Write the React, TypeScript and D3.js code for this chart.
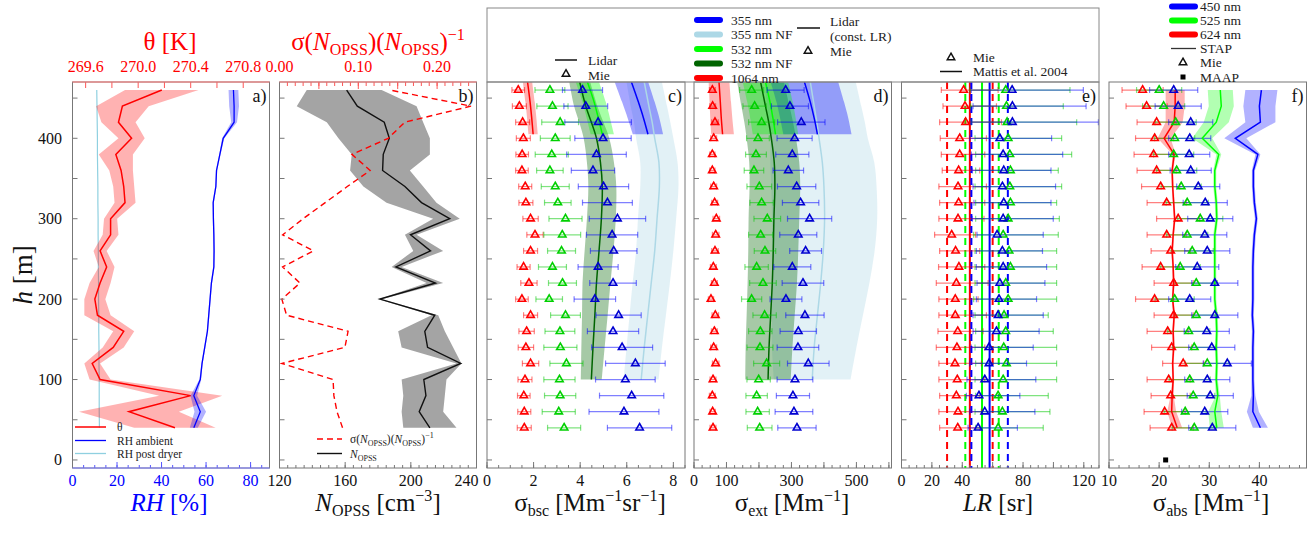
import React from "react";
import * as d3 from "d3";

const FONT = '"Liberation Serif", "DejaVu Serif", "Times New Roman", serif';

// Sampling heights of the in-situ profiles (m above ground)
const HEIGHTS = [40, 60, 80, 100, 120, 140, 160, 180, 200, 220, 240, 260, 280, 300, 320, 340, 360, 380, 400, 420, 440, 460];

// a) potential temperature and relative humidity
const THETA = [270.28, 269.93, 270.4, 269.71, 269.65, 269.81, 269.89, 269.69, 269.67, 269.71, 269.76, 269.71, 269.79, 269.79, 269.9, 269.89, 269.87, 269.83, 269.95, 269.85, 269.88, 270.18];
const THETA_ERR = [0.31, 0.38, 0.24, 0.08, 0.06, 0.08, 0.08, 0.1, 0.08, 0.08, 0.06, 0.05, 0.06, 0.05, 0.08, 0.08, 0.09, 0.13, 0.1, 0.13, 0.2, 0.28];
const RH_AMBIENT = [54.5, 57.4, 54.5, 57.4, 58.2, 59.4, 60.6, 61.2, 61.8, 62.4, 63.5, 63.6, 63.5, 63.3, 63.2, 64.4, 64.7, 66.2, 67.7, 72.6, 72.6, 72.3];
const RH_AMBIENT_ERR = [1.8, 2.6, 1.5, 0.4, 0.3, 0.3, 0.3, 0.3, 0.3, 0.3, 0.3, 0.3, 0.3, 0.3, 0.3, 0.3, 0.3, 0.3, 0.5, 1.3, 2.2, 2.2];
const RH_DRYER = [12.1, 12.0, 12.0, 12.0, 11.9, 11.9, 11.8, 11.8, 11.7, 11.7, 11.6, 11.6, 11.5, 11.5, 11.4, 11.4, 11.3, 11.2, 11.2, 11.1, 11.0, 10.9];

// b) OPSS number concentration and its relative variability
const N_OPSS = [211.6, 205.1, 209.2, 207.9, 230.4, 210.2, 208.5, 214.6, 181.2, 215.0, 190.9, 212.0, 199.8, 223.7, 206.5, 196.4, 182.8, 183.2, 186.9, 183.8, 167.4, 160.9];
const N_OPSS_LO = [195.4, 194.4, 195.4, 194.4, 227.8, 194.4, 192.3, 212.6, 180.2, 209.6, 188.3, 201.5, 196.4, 213.6, 185.2, 171.1, 163.0, 164.0, 155.9, 148.8, 130.5, 136.6];
const N_OPSS_HI = [227.8, 219.7, 220.7, 221.7, 230.8, 225.8, 220.7, 216.7, 182.2, 219.7, 194.4, 219.7, 203.5, 229.8, 215.6, 207.5, 199.4, 211.6, 211.6, 207.5, 203.5, 182.2];
const N_REL_STD = [0.08, 0.073, 0.069, 0.068, 0.003, 0.083, 0.087, 0.009, 0.003, 0.026, 0.004, 0.043, 0.004, 0.03, 0.058, 0.086, 0.115, 0.092, 0.138, 0.159, 0.243, 0.14];

// Lidar retrieval heights (far range and near field)
const LIDAR_H = [405, 425, 445, 470];
const LIDAR_NF_H = [100, 140, 180, 220, 260, 300, 340, 370, 400, 420, 440, 470];

// c) backscatter coefficient
const BSC_MIE_1064 = [1.6, 1.6, 1.58, 1.63, 1.87, 1.67, 1.7, 1.87, 1.5, 1.8, 1.57, 1.87, 2.06, 1.87, 1.67, 1.64, 1.5, 1.51, 1.56, 1.53, 1.39, 1.34];
const BSC_MIE_1064_ERR = [0.3, 0.28, 0.27, 0.3, 0.35, 0.33, 0.33, 0.3, 0.27, 0.35, 0.28, 0.3, 0.35, 0.33, 0.3, 0.28, 0.27, 0.27, 0.3, 0.3, 0.3, 0.27];
const BSC_MIE_532 = [3.31, 3.08, 3.14, 3.11, 3.41, 3.15, 3.13, 3.37, 2.67, 3.24, 2.81, 3.2, 3.23, 3.37, 3.04, 2.93, 2.7, 2.78, 2.93, 3.14, 2.81, 2.7];
const BSC_MIE_532_ERR = [0.71, 0.71, 0.67, 0.67, 0.71, 0.71, 0.64, 0.64, 0.57, 0.6, 0.6, 0.6, 0.79, 0.71, 0.57, 0.6, 0.57, 0.71, 0.64, 0.79, 0.67, 0.64];
const BSC_MIE_355 = [6.55, 5.88, 6.21, 5.94, 6.37, 5.8, 5.41, 5.65, 4.63, 5.41, 4.77, 5.44, 5.37, 5.6, 5.17, 5.0, 4.55, 4.7, 4.98, 4.77, 4.24, 4.1];
const BSC_MIE_355_ERR = [1.38, 1.5, 1.38, 1.28, 1.28, 1.31, 1.1, 0.97, 0.89, 1.0, 0.86, 1.0, 1.1, 1.21, 1.07, 1.08, 0.93, 1.28, 1.21, 1.43, 0.94, 0.86];
const BSC_LIDAR_1064 = [1.98, 1.92, 1.85, 1.74];
const BSC_LIDAR_1064_ERR = [0.2, 0.2, 0.2, 0.2];
const BSC_LIDAR_532 = [4.95, 4.78, 4.6, 4.31];
const BSC_LIDAR_532_ERR = [0.5, 0.5, 0.5, 0.5];
const BSC_LIDAR_355 = [6.91, 6.72, 6.5, 6.2];
const BSC_LIDAR_355_ERR = [0.65, 0.68, 0.7, 0.72];
const BSC_NF_532 = [4.48, 4.55, 4.63, 4.7, 4.81, 4.91, 4.95, 4.87, 4.7, 4.48, 4.24, 3.98];
const BSC_NF_532_ERR = [0.45, 0.5, 0.55, 0.6, 0.62, 0.62, 0.6, 0.58, 0.55, 0.52, 0.5, 0.45];
const BSC_NF_355 = [6.62, 6.75, 6.9, 7.05, 7.2, 7.3, 7.4, 7.38, 7.2, 7.09, 6.95, 6.75];
const BSC_NF_355_ERR = [0.75, 0.76, 0.78, 0.8, 0.8, 0.82, 0.82, 0.8, 0.8, 0.78, 0.78, 0.76];

// d) extinction coefficient
const EXT_MIE_1064 = [58.5, 57.4, 56.4, 58.5, 66.7, 60.5, 62.6, 65.6, 52.3, 62.6, 59.5, 64.6, 66.7, 68.7, 63.6, 60.5, 56.4, 56.4, 60.5, 64.6, 57.4, 56.4];
const EXT_MIE_1064_ERR = [9, 8, 9, 9, 10, 9, 9, 10, 8, 9, 9, 10, 10, 10, 9, 9, 8, 8, 9, 10, 9, 9];
const EXT_MIE_532 = [202.1, 195.9, 192.8, 199.0, 223.6, 203.1, 204.1, 217.4, 177.4, 212.3, 192.8, 218.5, 205.1, 225.6, 208.2, 201.0, 184.6, 190.8, 196.9, 208.2, 186.7, 177.4];
const EXT_MIE_532_ERR = [38, 36, 33, 36, 40, 40, 36, 36, 31, 41, 36, 33, 37, 41, 36, 38, 30, 32, 35, 40, 36, 37];
const EXT_MIE_355 = [316.9, 307.7, 304.6, 310.8, 351.8, 320.0, 321.0, 341.5, 283.1, 335.4, 302.6, 343.6, 321.0, 355.9, 328.2, 315.9, 290.3, 302.6, 309.7, 330.3, 295.4, 282.1];
const EXT_MIE_355_ERR = [59, 58, 51, 55, 64, 64, 56, 59, 49, 64, 57, 49, 57, 68, 56, 59, 47, 51, 54, 73, 57, 57];
const EXT_LIDAR_1064 = [88, 84, 81, 77];
const EXT_LIDAR_1064_ERR = [35, 34, 33, 32];
const EXT_LIDAR_532 = [251, 243, 234, 220];
const EXT_LIDAR_532_ERR = [70, 70, 70, 70];
const EXT_LIDAR_355 = [380, 370, 358, 340];
const EXT_LIDAR_355_ERR = [105, 105, 104, 104];
const EXT_NF_532 = [228, 231, 236, 241, 244, 246, 249, 247, 238, 230, 220, 205];
const EXT_NF_532_ERR = [70, 72, 74, 76, 77, 78, 78, 77, 76, 75, 74, 72];
const EXT_NF_355 = [364, 370, 380, 390, 398, 402, 400, 395, 385, 378, 370, 358];
const EXT_NF_355_ERR = [118, 130, 140, 150, 158, 162, 162, 160, 150, 148, 145, 140];

// e) lidar ratio
const LR_MIE_1064 = [37.0, 37.2, 36.1, 36.7, 35.2, 36.5, 37.0, 35.4, 35.4, 36.1, 37.8, 35.6, 33.0, 37.2, 37.6, 37.2, 37.6, 38.3, 38.3, 42.2, 41.8, 40.9];
const LR_MIE_1064_LO = [25.1, 24.6, 25.1, 24.6, 24.6, 22.9, 24.0, 24.6, 24.6, 22.9, 24.4, 25.1, 21.8, 24.6, 25.1, 24.6, 26.8, 26.2, 25.5, 25.1, 27.3, 26.2];
const LR_MIE_1064_HI = [51.5, 52.6, 51.5, 54.8, 52.6, 54.8, 53.7, 55.9, 50.4, 57.0, 54.8, 51.5, 48.8, 54.3, 54.8, 55.9, 51.5, 54.8, 55.9, 65.8, 62.5, 63.6];
const LR_MIE_532 = [63.6, 66.4, 63.6, 66.9, 69.1, 67.3, 68.6, 67.5, 70.2, 68.6, 71.7, 70.8, 66.9, 70.2, 71.7, 71.3, 71.7, 71.3, 70.2, 69.5, 69.1, 68.6];
const LR_MIE_532_LO = [48.8, 48.4, 48.8, 48.4, 48.8, 48.4, 48.8, 48.4, 47.5, 48.4, 48.4, 48.4, 47.5, 48.8, 48.8, 48.4, 48.8, 48.8, 48.4, 46.0, 45.5, 45.0];
const LR_MIE_532_HI = [93.3, 97.7, 96.6, 102.1, 102.1, 102.1, 99.9, 96.6, 102.1, 102.1, 102.1, 102.1, 103.2, 103.9, 102.1, 105.4, 103.2, 112.0, 105.4, 115.3, 106.5, 110.9];
const LR_MIE_355 = [50.4, 54.8, 51.0, 54.8, 57.6, 57.6, 62.5, 63.6, 64.2, 64.7, 66.9, 66.4, 62.9, 66.9, 67.3, 66.4, 67.3, 66.9, 64.7, 73.0, 73.0, 72.8];
const LR_MIE_355_LO = [43.8, 44.9, 42.7, 43.1, 44.9, 46.0, 47.1, 47.1, 49.3, 49.7, 49.3, 49.3, 49.7, 46.6, 47.7, 47.1, 46.6, 46.0, 44.9, 46.0, 47.1, 46.0];
const LR_MIE_355_HI = [76.3, 87.8, 77.9, 88.4, 82.3, 86.7, 90.6, 93.3, 88.9, 94.4, 95.5, 92.8, 93.3, 99.9, 98.4, 101.4, 98.4, 106.1, 98.8, 129.6, 121.5, 119.7];
// Mattis et al. (2004) lidar ratios: 355, 532, 1064 nm
const LR_MATTIS = [58, 53, 45];
const LR_MATTIS_ERR = [12, 11, 15];

// f) absorption coefficient
const ABS_MIE_624 = [22.5, 21.1, 22.3, 21.9, 24.8, 22.5, 21.7, 22.9, 19.1, 22.9, 20.3, 22.3, 21.5, 23.8, 21.5, 20.3, 19.5, 18.9, 19.1, 19.5, 17.5, 16.7];
const ABS_MIE_624_ERR = [4.3, 4.1, 3.9, 4.3, 4.1, 4.0, 4.1, 3.9, 3.8, 3.9, 3.7, 3.9, 3.9, 4.3, 3.9, 3.8, 3.9, 3.9, 3.8, 3.9, 4.1, 4.1];
const ABS_MIE_525 = [27.0, 25.2, 26.8, 26.1, 29.6, 27.0, 25.9, 27.4, 23.1, 27.4, 24.2, 26.6, 25.6, 28.2, 25.6, 24.4, 23.5, 22.9, 23.1, 23.3, 20.9, 20.0];
const ABS_MIE_525_ERR = [4.4, 4.2, 4.3, 4.1, 4.4, 4.3, 4.2, 4.2, 3.9, 4.2, 4.0, 4.2, 4.1, 4.5, 4.2, 4.0, 4.0, 4.0, 4.0, 4.1, 4.2, 4.5];
const ABS_MIE_450 = [30.6, 29.1, 30.2, 29.6, 33.6, 30.5, 29.5, 31.1, 26.1, 31.1, 27.6, 29.6, 29.1, 30.2, 29.2, 27.8, 26.3, 26.0, 26.1, 26.3, 23.8, 22.9];
const ABS_MIE_450_ERR = [4.7, 4.6, 4.6, 4.5, 4.8, 4.6, 4.5, 4.6, 4.2, 4.6, 4.3, 4.5, 4.4, 4.5, 4.4, 4.3, 4.1, 4.1, 4.2, 4.4, 4.6, 4.8];
const ABS_STAP_624 = [23.6, 22.5, 22.6, 22.8, 22.7, 22.9, 22.8, 23.0, 22.7, 22.9, 22.8, 22.6, 22.8, 23.1, 22.9, 22.7, 22.6, 23.0, 21.0, 23.0, 23.2, 23.2];
const ABS_STAP_624_ERR = [1.0, 0.9, 0.3, 0.2, 0.2, 0.2, 0.2, 0.2, 0.2, 0.2, 0.2, 0.2, 0.2, 0.2, 0.2, 0.2, 0.2, 0.3, 1.3, 1.7, 1.9, 1.9];
const ABS_STAP_525 = [31.5, 31.1, 31.7, 31.4, 31.5, 31.4, 31.5, 31.4, 31.1, 31.1, 31.1, 31.1, 31.1, 31.5, 31.4, 31.1, 31.1, 31.9, 28.6, 31.4, 32.4, 32.2];
const ABS_STAP_525_ERR = [1.4, 1.3, 0.4, 0.3, 0.3, 0.3, 0.3, 0.3, 0.3, 0.3, 0.3, 0.3, 0.3, 0.3, 0.3, 0.3, 0.3, 0.5, 2.0, 2.5, 2.5, 2.5];
const ABS_STAP_450 = [40.2, 38.7, 38.8, 38.7, 38.7, 38.7, 38.8, 38.6, 38.7, 38.7, 38.7, 38.8, 39.0, 39.4, 39.0, 38.8, 38.8, 39.7, 35.2, 40.2, 40.0, 40.4];
const ABS_STAP_450_ERR = [1.5, 1.2, 0.4, 0.3, 0.3, 0.3, 0.3, 0.3, 0.3, 0.3, 0.3, 0.3, 0.3, 0.3, 0.3, 0.3, 0.3, 0.5, 2.2, 3.0, 3.2, 3.2];
const MAAP_H = [0];
const MAAP_ABS = [21.3];

// Tick labels
const Y_TICKS = [0, 100, 200, 300, 400];
const TICKS_A_BOTTOM = [0, 20, 40, 60, 80];
const TICKS_A_TOP = [269.6, 270.0, 270.4, 270.8];
const TICKS_B_BOTTOM = [120, 160, 200, 240];
const TICKS_B_TOP = [0, 0.1, 0.2];
const TICKS_C = [0, 2, 4, 6, 8];
const TICKS_D = [0, 100, 300, 500];
const TICKS_E = [0, 20, 40, 80, 120];
const TICKS_F = [10, 20, 30, 40];

// Colours
const BLUE = "#0000ff";
const LIGHTBLUE = "#add8e6";
const LIME = "#00ff00";
const DARKGREEN = "#006400";
const RED = "#ff0000";
const FRAME = "#777";

// Layout
const TOP = 82;
const BOTTOM = 468;
const PANELS: Record<string, [number, number]> = {
  a: [72.5, 269.5],
  b: [279.5, 476.5],
  c: [487, 685],
  d: [694, 891.5],
  e: [901.5, 1099],
  f: [1109, 1306.5],
};

const yS = d3.scaleLinear().domain([-10, 470]).range([BOTTOM, TOP]);
const xA = d3.scaleLinear().domain([0, 88.5]).range(PANELS.a);
const xAtop = d3.scaleLinear().domain([269.5, 271.0]).range(PANELS.a);
const xB = d3.scaleLinear().domain([120, 240]).range(PANELS.b);
const xBtop = d3.scaleLinear().domain([0, 0.25]).range(PANELS.b);
const xC = d3.scaleLinear().domain([0, 8.5]).range(PANELS.c);
const xD = d3.scaleLinear().domain([0, 608]).range(PANELS.d);
const xE = d3.scaleLinear().domain([0, 130]).range(PANELS.e);
const xF = d3.scaleLinear().domain([10, 49.4]).range(PANELS.f);

const TRIANGLE = d3.symbol().type(d3.symbolTriangle).size(24)() as string;

const minus = (v: number[], e: number[]) => v.map((x, i) => x - e[i]);
const plus = (v: number[], e: number[]) => v.map((x, i) => x + e[i]);

function Band({ x, hs, lo, hi, fill, opacity = 0.3, smooth = false }: any) {
  const gen = d3
    .area<number>()
    .curve(smooth ? d3.curveCatmullRom : d3.curveLinear)
    .y((i) => yS(hs[i]))
    .x0((i) => x(lo[i]))
    .x1((i) => x(hi[i]));
  return <path d={gen(d3.range(hs.length)) || ""} fill={fill} fillOpacity={opacity} stroke="none" />;
}

function Profile({ x, hs, v, color, width = 1.5, dash, smooth = false }: any) {
  const gen = d3
    .line<number>()
    .curve(smooth ? d3.curveCatmullRom : d3.curveLinear)
    .x((i) => x(v[i]))
    .y((i) => yS(hs[i]));
  return <path d={gen(d3.range(hs.length)) || ""} fill="none" stroke={color} strokeWidth={width} strokeDasharray={dash} />;
}

function ErrorBars({ x, hs, lo, hi, color }: any) {
  return (
    <g stroke={color} strokeOpacity={0.5} strokeWidth={1.2}>
      {hs.map((h: number, i: number) => {
        const yy = yS(h);
        const a = x(lo[i]);
        const b = x(hi[i]);
        return (
          <g key={i}>
            <line x1={a} x2={b} y1={yy} y2={yy} />
            <line x1={a} x2={a} y1={yy - 3} y2={yy + 3} />
            <line x1={b} x2={b} y1={yy - 3} y2={yy + 3} />
          </g>
        );
      })}
    </g>
  );
}

function Triangles({ x, hs, v, color }: any) {
  return (
    <g>
      {hs.map((h: number, i: number) => (
        <path key={i} d={TRIANGLE} transform={`translate(${x(v[i])},${yS(h)})`} fill="none" stroke={color} strokeWidth={1.6} />
      ))}
    </g>
  );
}

function XTicks({ scale, values, y, len, color = FRAME }: any) {
  return (
    <g stroke={color} strokeWidth={1}>
      {values.map((v: number, i: number) => (
        <line key={i} x1={scale(v)} x2={scale(v)} y1={y} y2={y + len} />
      ))}
    </g>
  );
}

function YTicks({ x0 }: { x0: number }) {
  return (
    <g stroke={FRAME} strokeWidth={1}>
      {d3.range(0, 451, 50).map((h) => (
        <line key={h} x1={x0} x2={x0 + 5} y1={yS(h)} y2={yS(h)} />
      ))}
    </g>
  );
}

function TickLabels({ scale, values, y, fmt, color = "#111", lastAnchorEnd = false }: any) {
  return (
    <g fontSize={16} fill={color}>
      {values.map((v: number, i: number) => {
        const end = lastAnchorEnd && i === values.length - 1;
        return (
          <text key={i} x={end ? scale(v) + 2 : scale(v)} y={y} textAnchor={end ? "end" : "middle"}>
            {fmt ? fmt(v) : String(v)}
          </text>
        );
      })}
    </g>
  );
}

function Frame({ id }: { id: string }) {
  const [x0, x1] = PANELS[id];
  return <rect x={x0} y={TOP} width={x1 - x0} height={BOTTOM - TOP} fill="none" stroke={FRAME} strokeWidth={1} />;
}

function PanelLabel({ id, text }: { id: string; text: string }) {
  const [, x1] = PANELS[id];
  return (
    <text x={x1 - 3} y={102} textAnchor="end" fontSize={18} fill="#111">
      {text}
    </text>
  );
}

export default function App() {
  const midY = (v: number) => v + 4.5;
  return (
    <svg
      width={1311}
      height={540}
      viewBox="0 0 1311 540"
      style={{ position: "absolute", left: 0, top: 0, background: "#fff", fontFamily: FONT }}
    >
      <rect width={1311} height={540} fill="#fff" />
      <defs>
        {Object.entries(PANELS).map(([k, [x0, x1]]) => (
          <clipPath id={`clip-${k}`} key={k}>
            <rect x={x0} y={TOP} width={x1 - x0} height={BOTTOM - TOP} />
          </clipPath>
        ))}
      </defs>

      {/* ---------- a) theta and RH ---------- */}
      <g clipPath="url(#clip-a)">
        <Profile x={xA} hs={HEIGHTS} v={RH_DRYER} color="#8fd0e0" width={1.2} />
        <Band x={xAtop} hs={HEIGHTS} lo={minus(THETA, THETA_ERR)} hi={plus(THETA, THETA_ERR)} fill={RED} opacity={0.3} />
        <Profile x={xAtop} hs={HEIGHTS} v={THETA} color={RED} width={1.5} />
        <Band x={xA} hs={HEIGHTS} lo={minus(RH_AMBIENT, RH_AMBIENT_ERR)} hi={plus(RH_AMBIENT, RH_AMBIENT_ERR)} fill={BLUE} opacity={0.3} />
        <Profile x={xA} hs={HEIGHTS} v={RH_AMBIENT} color={BLUE} width={1.3} />
      </g>
      <YTicks x0={PANELS.a[0]} />
      <XTicks scale={xA} values={d3.range(0, 89, 5)} y={BOTTOM} len={-3} color="#5555ff" />
      <XTicks scale={xA} values={TICKS_A_BOTTOM} y={BOTTOM} len={-6} color="#5555ff" />
      <XTicks scale={xAtop} values={d3.range(269.6, 271.0, 0.2)} y={TOP} len={6} color="#ff5555" />
      <Frame id="a" />
      <line x1={PANELS.a[0]} x2={PANELS.a[1]} y1={TOP} y2={TOP} stroke="#ff7777" />
      <line x1={PANELS.a[0]} x2={PANELS.a[1]} y1={BOTTOM} y2={BOTTOM} stroke="#7777ff" />
      <PanelLabel id="a" text="a)" />
      <g fontSize={11.5} fill="#222">
        <line x1={75} x2={106} y1={427} y2={427} stroke={RED} strokeWidth={1.5} />
        <text x={117} y={431}>θ</text>
        <line x1={75} x2={106} y1={440.5} y2={440.5} stroke={BLUE} strokeWidth={1.3} />
        <text x={117} y={444.5}>RH ambient</text>
        <line x1={75} x2={106} y1={453.5} y2={453.5} stroke="#8fd0e0" strokeWidth={1.3} />
        <text x={117} y={457.5}>RH post dryer</text>
      </g>

      {/* ---------- b) N_OPSS ---------- */}
      <g clipPath="url(#clip-b)">
        <Band x={xB} hs={HEIGHTS} lo={N_OPSS_LO} hi={N_OPSS_HI} fill="#8a8a8a" opacity={0.78} />
        <Profile x={xB} hs={HEIGHTS} v={N_OPSS} color="#111" width={1.4} />
        <Profile x={xBtop} hs={HEIGHTS} v={N_REL_STD} color={RED} width={1.4} dash="6,4" />
      </g>
      <YTicks x0={PANELS.b[0]} />
      <XTicks scale={xB} values={d3.range(120, 241, 5)} y={BOTTOM} len={-3} />
      <XTicks scale={xB} values={TICKS_B_BOTTOM} y={BOTTOM} len={-6} />
      <XTicks scale={xBtop} values={d3.range(0, 0.251, 0.01)} y={TOP} len={4} color="#ff5555" />
      <XTicks scale={xBtop} values={d3.range(0, 0.251, 0.05)} y={TOP} len={7} color="#ff5555" />
      <Frame id="b" />
      <line x1={PANELS.b[0]} x2={PANELS.b[1]} y1={TOP} y2={TOP} stroke="#ff7777" />
      <PanelLabel id="b" text="b)" />
      <g fontSize={11.5} fill="#222">
        <line x1={317} x2={342} y1={439} y2={439} stroke={RED} strokeWidth={1.4} strokeDasharray="6,4" />
        <text x={350} y={443}>
          σ(<tspan fontStyle="italic">N</tspan>
          <tspan fontSize={8} dy={3}>OPSS</tspan>
          <tspan dy={-3}>)(</tspan>
          <tspan fontStyle="italic">N</tspan>
          <tspan fontSize={8} dy={3}>OPSS</tspan>
          <tspan dy={-3}>)</tspan>
          <tspan fontSize={8} dy={-5}>−1</tspan>
        </text>
        <line x1={317} x2={342} y1={453.5} y2={453.5} stroke="#111" strokeWidth={1.4} />
        <text x={350} y={457.5}>
          <tspan fontStyle="italic">N</tspan>
          <tspan fontSize={8} dy={3}>OPSS</tspan>
        </text>
      </g>

      {/* ---------- c) backscatter ---------- */}
      <g clipPath="url(#clip-c)">
        <Band x={xC} hs={LIDAR_NF_H} lo={minus(BSC_NF_355, BSC_NF_355_ERR)} hi={plus(BSC_NF_355, BSC_NF_355_ERR)} fill={LIGHTBLUE} opacity={0.35} smooth />
        <Band x={xC} hs={LIDAR_NF_H} lo={minus(BSC_NF_532, BSC_NF_532_ERR)} hi={plus(BSC_NF_532, BSC_NF_532_ERR)} fill={DARKGREEN} opacity={0.35} smooth />
        <Band x={xC} hs={LIDAR_H} lo={minus(BSC_LIDAR_355, BSC_LIDAR_355_ERR)} hi={plus(BSC_LIDAR_355, BSC_LIDAR_355_ERR)} fill={BLUE} opacity={0.35} smooth />
        <Band x={xC} hs={LIDAR_H} lo={minus(BSC_LIDAR_532, BSC_LIDAR_532_ERR)} hi={plus(BSC_LIDAR_532, BSC_LIDAR_532_ERR)} fill={LIME} opacity={0.35} smooth />
        <Band x={xC} hs={LIDAR_H} lo={minus(BSC_LIDAR_1064, BSC_LIDAR_1064_ERR)} hi={plus(BSC_LIDAR_1064, BSC_LIDAR_1064_ERR)} fill={RED} opacity={0.3} smooth />
        <Profile x={xC} hs={LIDAR_NF_H} v={BSC_NF_355} color={LIGHTBLUE} width={1.5} smooth />
        <Profile x={xC} hs={LIDAR_NF_H} v={BSC_NF_532} color={DARKGREEN} width={1.5} smooth />
        <Profile x={xC} hs={LIDAR_H} v={BSC_LIDAR_355} color={BLUE} width={1.5} smooth />
        <Profile x={xC} hs={LIDAR_H} v={BSC_LIDAR_532} color={LIME} width={1.5} smooth />
        <Profile x={xC} hs={LIDAR_H} v={BSC_LIDAR_1064} color={RED} width={1.5} smooth />
        <ErrorBars x={xC} hs={HEIGHTS} lo={minus(BSC_MIE_1064, BSC_MIE_1064_ERR)} hi={plus(BSC_MIE_1064, BSC_MIE_1064_ERR)} color={RED} />
        <ErrorBars x={xC} hs={HEIGHTS} lo={minus(BSC_MIE_532, BSC_MIE_532_ERR)} hi={plus(BSC_MIE_532, BSC_MIE_532_ERR)} color="#00c800" />
        <ErrorBars x={xC} hs={HEIGHTS} lo={minus(BSC_MIE_355, BSC_MIE_355_ERR)} hi={plus(BSC_MIE_355, BSC_MIE_355_ERR)} color={BLUE} />
        <Triangles x={xC} hs={HEIGHTS} v={BSC_MIE_1064} color={RED} />
        <Triangles x={xC} hs={HEIGHTS} v={BSC_MIE_532} color="#00d000" />
        <Triangles x={xC} hs={HEIGHTS} v={BSC_MIE_355} color="#0000d0" />
      </g>
      <YTicks x0={PANELS.c[0]} />
      <XTicks scale={xC} values={d3.range(0, 8.51, 0.5)} y={BOTTOM} len={-3} />
      <XTicks scale={xC} values={TICKS_C} y={BOTTOM} len={-6} />
      <Frame id="c" />
      <PanelLabel id="c" text="c)" />

      {/* ---------- d) extinction ---------- */}
      <g clipPath="url(#clip-d)">
        <Band x={xD} hs={LIDAR_NF_H} lo={minus(EXT_NF_355, EXT_NF_355_ERR)} hi={plus(EXT_NF_355, EXT_NF_355_ERR)} fill={LIGHTBLUE} opacity={0.35} smooth />
        <Band x={xD} hs={LIDAR_NF_H} lo={minus(EXT_NF_532, EXT_NF_532_ERR)} hi={plus(EXT_NF_532, EXT_NF_532_ERR)} fill={DARKGREEN} opacity={0.35} smooth />
        <Band x={xD} hs={LIDAR_H} lo={minus(EXT_LIDAR_355, EXT_LIDAR_355_ERR)} hi={plus(EXT_LIDAR_355, EXT_LIDAR_355_ERR)} fill={BLUE} opacity={0.35} smooth />
        <Band x={xD} hs={LIDAR_H} lo={minus(EXT_LIDAR_532, EXT_LIDAR_532_ERR)} hi={plus(EXT_LIDAR_532, EXT_LIDAR_532_ERR)} fill={LIME} opacity={0.35} smooth />
        <Band x={xD} hs={LIDAR_H} lo={minus(EXT_LIDAR_1064, EXT_LIDAR_1064_ERR)} hi={plus(EXT_LIDAR_1064, EXT_LIDAR_1064_ERR)} fill={RED} opacity={0.3} smooth />
        <Profile x={xD} hs={LIDAR_NF_H} v={EXT_NF_355} color={LIGHTBLUE} width={1.5} smooth />
        <Profile x={xD} hs={LIDAR_NF_H} v={EXT_NF_532} color={DARKGREEN} width={1.5} smooth />
        <Profile x={xD} hs={LIDAR_H} v={EXT_LIDAR_355} color={BLUE} width={1.5} smooth />
        <Profile x={xD} hs={LIDAR_H} v={EXT_LIDAR_532} color={LIME} width={1.5} smooth />
        <Profile x={xD} hs={LIDAR_H} v={EXT_LIDAR_1064} color={RED} width={1.5} smooth />
        <ErrorBars x={xD} hs={HEIGHTS} lo={minus(EXT_MIE_1064, EXT_MIE_1064_ERR)} hi={plus(EXT_MIE_1064, EXT_MIE_1064_ERR)} color={RED} />
        <ErrorBars x={xD} hs={HEIGHTS} lo={minus(EXT_MIE_532, EXT_MIE_532_ERR)} hi={plus(EXT_MIE_532, EXT_MIE_532_ERR)} color="#00c800" />
        <ErrorBars x={xD} hs={HEIGHTS} lo={minus(EXT_MIE_355, EXT_MIE_355_ERR)} hi={plus(EXT_MIE_355, EXT_MIE_355_ERR)} color={BLUE} />
        <Triangles x={xD} hs={HEIGHTS} v={EXT_MIE_1064} color={RED} />
        <Triangles x={xD} hs={HEIGHTS} v={EXT_MIE_532} color="#00d000" />
        <Triangles x={xD} hs={HEIGHTS} v={EXT_MIE_355} color="#0000d0" />
      </g>
      <YTicks x0={PANELS.d[0]} />
      <XTicks scale={xD} values={d3.range(0, 608, 25)} y={BOTTOM} len={-3} />
      <XTicks scale={xD} values={d3.range(0, 608, 100)} y={BOTTOM} len={-6} />
      <Frame id="d" />
      <PanelLabel id="d" text="d)" />

      {/* ---------- e) lidar ratio ---------- */}
      <g clipPath="url(#clip-e)">
        {[RED, LIME, BLUE].map((col, k) => {
          const idx = 2 - k; // 1064, 532, 355
          const m = LR_MATTIS[idx];
          const e = LR_MATTIS_ERR[idx];
          return (
            <g key={col} stroke={col} strokeWidth={2}>
              <line x1={xE(m - e)} x2={xE(m - e)} y1={TOP} y2={BOTTOM} strokeDasharray="7,5" />
              <line x1={xE(m + e)} x2={xE(m + e)} y1={TOP} y2={BOTTOM} strokeDasharray="7,5" />
              <line x1={xE(m)} x2={xE(m)} y1={TOP} y2={BOTTOM} />
            </g>
          );
        })}
        <ErrorBars x={xE} hs={HEIGHTS} lo={LR_MIE_1064_LO} hi={LR_MIE_1064_HI} color={RED} />
        <ErrorBars x={xE} hs={HEIGHTS} lo={LR_MIE_532_LO} hi={LR_MIE_532_HI} color="#00c800" />
        <ErrorBars x={xE} hs={HEIGHTS} lo={LR_MIE_355_LO} hi={LR_MIE_355_HI} color={BLUE} />
        <Triangles x={xE} hs={HEIGHTS} v={LR_MIE_1064} color={RED} />
        <Triangles x={xE} hs={HEIGHTS} v={LR_MIE_532} color="#00d000" />
        <Triangles x={xE} hs={HEIGHTS} v={LR_MIE_355} color="#0000d0" />
      </g>
      <YTicks x0={PANELS.e[0]} />
      <XTicks scale={xE} values={d3.range(0, 131, 5)} y={BOTTOM} len={-3} />
      <XTicks scale={xE} values={d3.range(0, 131, 20)} y={BOTTOM} len={-6} />
      <Frame id="e" />
      <PanelLabel id="e" text="e)" />

      {/* ---------- f) absorption ---------- */}
      <g clipPath="url(#clip-f)">
        <Band x={xF} hs={HEIGHTS} lo={minus(ABS_STAP_624, ABS_STAP_624_ERR)} hi={plus(ABS_STAP_624, ABS_STAP_624_ERR)} fill={RED} opacity={0.3} />
        <Band x={xF} hs={HEIGHTS} lo={minus(ABS_STAP_525, ABS_STAP_525_ERR)} hi={plus(ABS_STAP_525, ABS_STAP_525_ERR)} fill={LIME} opacity={0.3} />
        <Band x={xF} hs={HEIGHTS} lo={minus(ABS_STAP_450, ABS_STAP_450_ERR)} hi={plus(ABS_STAP_450, ABS_STAP_450_ERR)} fill={BLUE} opacity={0.3} />
        <ErrorBars x={xF} hs={HEIGHTS} lo={minus(ABS_MIE_624, ABS_MIE_624_ERR)} hi={plus(ABS_MIE_624, ABS_MIE_624_ERR)} color={RED} />
        <ErrorBars x={xF} hs={HEIGHTS} lo={minus(ABS_MIE_525, ABS_MIE_525_ERR)} hi={plus(ABS_MIE_525, ABS_MIE_525_ERR)} color="#00c800" />
        <ErrorBars x={xF} hs={HEIGHTS} lo={minus(ABS_MIE_450, ABS_MIE_450_ERR)} hi={plus(ABS_MIE_450, ABS_MIE_450_ERR)} color={BLUE} />
        <Profile x={xF} hs={HEIGHTS} v={ABS_STAP_624} color={RED} width={1.5} />
        <Profile x={xF} hs={HEIGHTS} v={ABS_STAP_525} color={LIME} width={1.5} />
        <Profile x={xF} hs={HEIGHTS} v={ABS_STAP_450} color={BLUE} width={1.5} />
        <Triangles x={xF} hs={HEIGHTS} v={ABS_MIE_624} color={RED} />
        <Triangles x={xF} hs={HEIGHTS} v={ABS_MIE_525} color="#00d000" />
        <Triangles x={xF} hs={HEIGHTS} v={ABS_MIE_450} color="#0000d0" />
        {MAAP_H.map((h, i) => (
          <rect key={i} x={xF(MAAP_ABS[i]) - 2.5} y={yS(h) - 2.5} width={5} height={5} fill="#000" />
        ))}
      </g>
      <YTicks x0={PANELS.f[0]} />
      <XTicks scale={xF} values={d3.range(10, 49.5, 2)} y={BOTTOM} len={-3} />
      <XTicks scale={xF} values={TICKS_F} y={BOTTOM} len={-6} />
      <Frame id="f" />
      <PanelLabel id="f" text="f)" />

      {/* ---------- tick labels ---------- */}
      <g fontSize={16} fill="#111">
        {Y_TICKS.map((h) => (
          <text key={h} x={62} y={yS(h) + 5.5} textAnchor="end">
            {h}
          </text>
        ))}
      </g>
      <TickLabels scale={xA} values={TICKS_A_BOTTOM} y={486} color={BLUE} />
      <TickLabels scale={xAtop} values={TICKS_A_TOP} y={72} color={RED} fmt={(v: number) => v.toFixed(1)} />
      <TickLabels scale={xB} values={TICKS_B_BOTTOM} y={486} lastAnchorEnd />
      <TickLabels scale={xBtop} values={TICKS_B_TOP} y={72} color={RED} fmt={(v: number) => v.toFixed(2)} />
      <TickLabels scale={xC} values={TICKS_C} y={486} />
      <TickLabels scale={xD} values={TICKS_D} y={486} />
      <TickLabels scale={xE} values={TICKS_E} y={486} />
      <TickLabels scale={xF} values={TICKS_F} y={486} />

      {/* ---------- axis titles ---------- */}
      <text transform="translate(32,275) rotate(-90)" textAnchor="middle" fontSize={27} fill="#111">
        <tspan fontStyle="italic">h</tspan> [m]
      </text>
      <text x={170} y={50} textAnchor="middle" fontSize={25} fill={RED}>
        θ [K]
      </text>
      <text x={378} y={50} textAnchor="middle" fontSize={25} fill={RED}>
        σ(<tspan fontStyle="italic">N</tspan>
        <tspan fontSize={16} dy={5}>OPSS</tspan>
        <tspan dy={-5}>)(</tspan>
        <tspan fontStyle="italic">N</tspan>
        <tspan fontSize={16} dy={5}>OPSS</tspan>
        <tspan dy={-5}>)</tspan>
        <tspan fontSize={16} dy={-10}>−1</tspan>
      </text>
      <text x={169} y={511} textAnchor="middle" fontSize={25} fill={BLUE}>
        <tspan fontStyle="italic">RH</tspan> [%]
      </text>
      <text x={378} y={511} textAnchor="middle" fontSize={25} fill="#111">
        <tspan fontStyle="italic">N</tspan>
        <tspan fontSize={16} dy={5}>OPSS</tspan>
        <tspan dy={-5}> [cm</tspan>
        <tspan fontSize={16} dy={-10}>−3</tspan>
        <tspan dy={10}>]</tspan>
      </text>
      <text x={590} y={511} textAnchor="middle" fontSize={25} fill="#111">
        σ<tspan fontSize={16} dy={5}>bsc</tspan>
        <tspan dy={-5}> [Mm</tspan>
        <tspan fontSize={16} dy={-10}>−1</tspan>
        <tspan dy={10}>sr</tspan>
        <tspan fontSize={16} dy={-10}>−1</tspan>
        <tspan dy={10}>]</tspan>
      </text>
      <text x={792} y={511} textAnchor="middle" fontSize={25} fill="#111">
        σ<tspan fontSize={16} dy={5}>ext</tspan>
        <tspan dy={-5}> [Mm</tspan>
        <tspan fontSize={16} dy={-10}>−1</tspan>
        <tspan dy={10}>]</tspan>
      </text>
      <text x={998} y={511} textAnchor="middle" fontSize={25} fill="#111">
        <tspan fontStyle="italic">LR</tspan> [sr]
      </text>
      <text x={1211} y={511} textAnchor="middle" fontSize={25} fill="#111">
        σ<tspan fontSize={16} dy={5}>abs</tspan>
        <tspan dy={-5}> [Mm</tspan>
        <tspan fontSize={16} dy={-10}>−1</tspan>
        <tspan dy={10}>]</tspan>
      </text>

      {/* ---------- legends ---------- */}
      <rect x={PANELS.c[0]} y={8} width={PANELS.e[1] - PANELS.c[0]} height={TOP - 8} fill="none" stroke="#888" strokeWidth={1} />
      <g fontSize={13.5} fill="#222">
        {/* c) */}
        <line x1={555} x2={577} y1={60} y2={60} stroke="#111" strokeWidth={1.5} />
        <text x={588} y={midY(60)}>Lidar</text>
        <path d={TRIANGLE} transform="translate(566,74)" fill="none" stroke="#111" strokeWidth={1.5} />
        <text x={588} y={midY(75)}>Mie</text>

        {/* d) */}
        {[
          { c: BLUE, t: "355 nm", y: 20 },
          { c: LIGHTBLUE, t: "355 nm NF", y: 34.5 },
          { c: LIME, t: "532 nm", y: 49 },
          { c: DARKGREEN, t: "532 nm NF", y: 63.5 },
          { c: RED, t: "1064 nm", y: 78 },
        ].map((d) => (
          <g key={d.t}>
            <line x1={697} x2={720} y1={d.y} y2={d.y} stroke={d.c} strokeWidth={6} strokeLinecap="round" />
            <text x={731} y={midY(d.y)}>{d.t}</text>
          </g>
        ))}
        <line x1={797} x2={820} y1={28} y2={28} stroke="#111" strokeWidth={1.5} />
        <text x={830} y={midY(21.5)}>Lidar</text>
        <text x={830} y={midY(36)}>(const. LR)</text>
        <path d={TRIANGLE} transform="translate(808,51)" fill="none" stroke="#111" strokeWidth={1.5} />
        <text x={830} y={midY(51)}>Mie</text>

        {/* e) */}
        <path d={TRIANGLE} transform="translate(951,57.5)" fill="none" stroke="#111" strokeWidth={1.5} />
        <text x={973} y={midY(57.5)}>Mie</text>
        <line x1={940} x2={962} y1={71.5} y2={71.5} stroke="#111" strokeWidth={1.5} />
        <text x={973} y={midY(71.5)}>Mattis et al. 2004</text>

        {/* f) */}
        {[
          { c: BLUE, t: "450 nm", y: 6.5 },
          { c: LIME, t: "525 nm", y: 20.5 },
          { c: RED, t: "624 nm", y: 34.5 },
        ].map((d) => (
          <g key={d.t}>
            <line x1={1172} x2={1195} y1={d.y} y2={d.y} stroke={d.c} strokeWidth={6} strokeLinecap="round" />
            <text x={1200} y={midY(d.y)}>{d.t}</text>
          </g>
        ))}
        <line x1={1171} x2={1196} y1={48.5} y2={48.5} stroke="#333" strokeWidth={1.3} />
        <text x={1200} y={midY(48.5)}>STAP</text>
        <path d={TRIANGLE} transform="translate(1183,62.5)" fill="none" stroke="#111" strokeWidth={1.5} />
        <text x={1200} y={midY(62.5)}>Mie</text>
        <rect x={1180.5} y={74.5} width={5} height={5} fill="#000" />
        <text x={1200} y={midY(77)}>MAAP</text>
      </g>
    </svg>
  );
}
